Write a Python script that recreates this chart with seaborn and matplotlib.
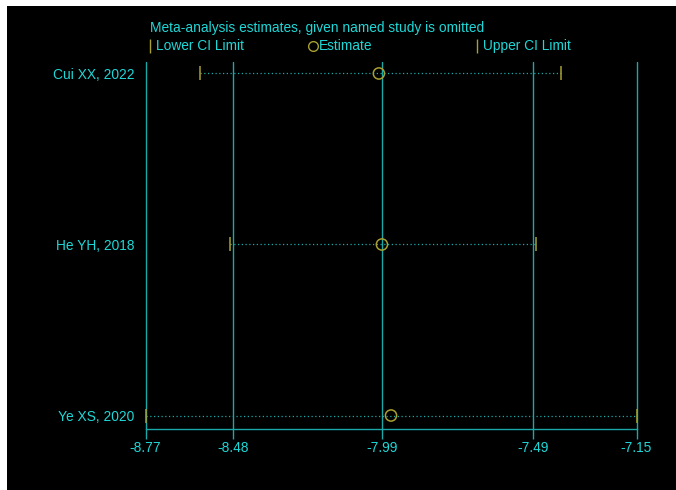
import matplotlib
matplotlib.use("Agg")
import matplotlib.pyplot as plt
from matplotlib import font_manager
from matplotlib.lines import Line2D
from matplotlib.patches import Rectangle
import seaborn as sns
import pandas as pd

# Leave-one-out sensitivity estimates
studies = ["Cui XX, 2022", "He YH, 2018", "Ye XS, 2020"]
lower = [-8.59, -8.49, -8.77]
estimate = [-8.00, -7.99, -7.96]
upper = [-7.40, -7.48, -7.15]

# Reference ticks: min lower, pooled lower CI, pooled estimate, pooled upper CI, max upper
xticks = [-8.77, -8.48, -7.99, -7.49, -7.15]
xticklabels = ["-8.77", "-8.48", "-7.99", "-7.49", "-7.15"]

TEXT = "#1ed8d8"
LINE = "#1aa8a8"
MARK = "#a8a030"
BG = "black"

sns.set_theme(style="white")
available = {f.name for f in font_manager.fontManager.ttflist}
if "Liberation Sans Narrow" in available:
    plt.rcParams["font.family"] = ["Liberation Sans Narrow", "DejaVu Sans"]
    FS = 11.6
else:
    plt.rcParams["font.family"] = ["Liberation Sans", "DejaVu Sans"]
    FS = 9.9

df = pd.DataFrame({"study": studies, "lower": lower, "estimate": estimate, "upper": upper})
df["pos"] = [3, 2, 1]

fig = plt.figure(figsize=(6.76, 4.90), dpi=100, facecolor="white")
fig.add_artist(Rectangle((7 / 676, -0.05), 1.1, 1.05 - 6 / 490, transform=fig.transFigure,
                         facecolor=BG, edgecolor="none", zorder=-10))

L, R, B, T = 145.5 / 676, 636.5 / 676, 1 - 428.5 / 490, 1 - 61.5 / 490
ax = fig.add_axes([L, B, R - L, T - B])
ax.patch.set_alpha(0)

ax.set_xlim(xticks[0], xticks[-1])
ax.set_ylim(0.924, 3.070)

# vertical reference lines at each tick
for xv in xticks:
    ax.axvline(xv, color=LINE, lw=1.0, zorder=1, clip_on=False)

# dotted CI spans
ax.hlines(df["pos"], df["lower"], df["upper"], colors=LINE, linestyles=(0, (1, 2)),
          lw=0.9, zorder=2)

# CI limits and estimates
sns.scatterplot(data=df, x="lower", y="pos", marker="|", s=110, color=MARK,
                linewidth=1.1, ax=ax, zorder=3, legend=False, clip_on=False)
sns.scatterplot(data=df, x="upper", y="pos", marker="|", s=110, color=MARK,
                linewidth=1.1, ax=ax, zorder=3, legend=False, clip_on=False)
sns.scatterplot(data=df, x="estimate", y="pos", marker="o", s=65, facecolor="none",
                edgecolor=MARK, linewidth=1.1, ax=ax, zorder=4, legend=False)

for side in ["top", "right", "left"]:
    ax.spines[side].set_visible(False)
ax.spines["bottom"].set_color(LINE)
ax.spines["bottom"].set_linewidth(1.0)

ax.set_xticks(xticks)
ax.set_xticklabels(xticklabels)
ax.set_yticks(df["pos"])
ax.set_yticklabels(df["study"])
ax.tick_params(axis="x", colors=LINE, length=7, width=1.0, labelcolor=TEXT,
               labelsize=FS, pad=2, bottom=True)
ax.tick_params(axis="y", length=0, labelcolor=TEXT, labelsize=FS, pad=8)
ax.set_xlabel("")
ax.set_ylabel("")

# title and legend line
fig.text(150 / 676, 1 - 28 / 490, "Meta-analysis estimates, given named study is omitted",
         color=TEXT, fontsize=FS, va="center", ha="left")
leg_y = 1 - 46 / 490
items = [(150, "|", "Lower CI Limit"), (313, "o", "Estimate"), (477, "|", "Upper CI Limit")]
for px, mk, label in items:
    if mk == "o":
        fig.add_artist(Line2D([px / 676], [leg_y], marker="o", markersize=7, markerfacecolor="none",
                              markeredgecolor=MARK, markeredgewidth=1.0, transform=fig.transFigure))
    else:
        fig.add_artist(Line2D([px / 676], [leg_y], marker="|", markersize=10,
                              markeredgecolor=MARK, markeredgewidth=1.0, transform=fig.transFigure))
    fig.text((px + 6) / 676, leg_y, label, color=TEXT, fontsize=FS, va="center", ha="left")

fig.savefig("out.png", dpi=100, facecolor=fig.get_facecolor())
